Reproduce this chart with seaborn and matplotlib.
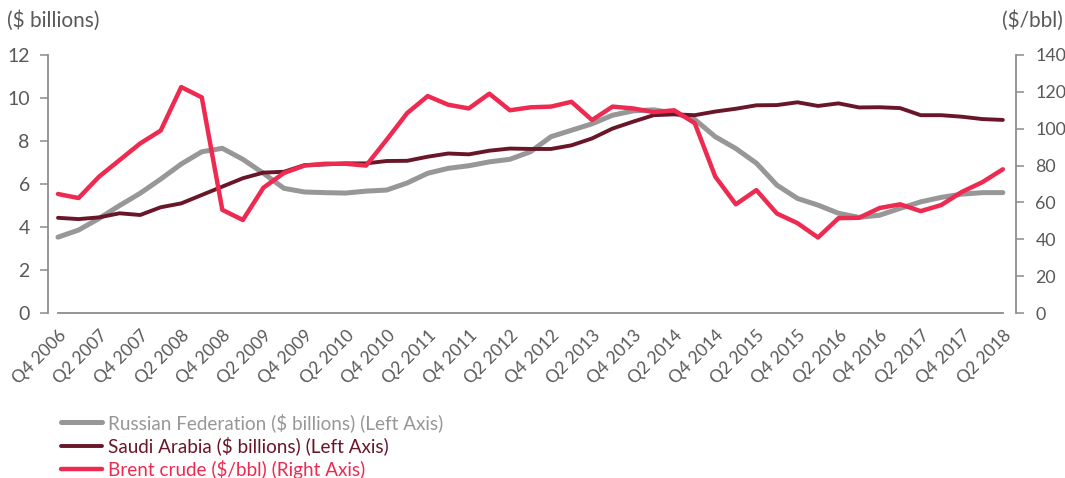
import numpy as np
import pandas as pd
import matplotlib.pyplot as plt
import seaborn as sns

# quarterly series, Q4 2006 .. Q2 2018
quarters = [f"Q{q} {y}" for y in range(2006, 2019) for q in (1, 2, 3, 4)][3:-2]

russia = [3.53, 3.86, 4.4, 5.0, 5.57, 6.23, 6.93, 7.5, 7.66, 7.15,
          6.5, 5.8, 5.63, 5.6, 5.58, 5.67, 5.72, 6.05, 6.5, 6.73,
          6.85, 7.03, 7.15, 7.5, 8.2, 8.5, 8.8, 9.2, 9.4, 9.45,
          9.3, 9.0, 8.2, 7.65, 6.97, 5.95, 5.33, 5.02, 4.64, 4.45,
          4.55, 4.87, 5.17, 5.38, 5.53, 5.6, 5.6]
saudi = [4.43, 4.37, 4.45, 4.64, 4.56, 4.92, 5.1, 5.49, 5.88, 6.27,
         6.53, 6.57, 6.88, 6.91, 6.96, 6.96, 7.07, 7.08, 7.27, 7.42,
         7.38, 7.55, 7.65, 7.63, 7.63, 7.8, 8.12, 8.58, 8.9, 9.2,
         9.24, 9.2, 9.37, 9.5, 9.66, 9.67, 9.8, 9.63, 9.75, 9.56,
         9.57, 9.53, 9.2, 9.2, 9.13, 9.02, 8.98]
brent = [64.6, 62.4, 74, 83, 92, 99, 122.6, 117, 56, 50.5,
         68, 76, 80, 81, 81, 80, 94, 108.5, 117.7, 113,
         111, 119, 110, 111.6, 112, 114.6, 104.7, 112, 111, 109,
         110, 103, 74, 59, 66.7, 54, 48.8, 41, 51.5, 51.7,
         57, 59, 55.3, 58.6, 65.7, 71, 78]

grey = "#979797"
maroon = "#6a1629"
red = "#ee2a50"
txt = "#595959"

df = pd.DataFrame({"q": np.arange(len(quarters)), "russia": russia,
                   "saudi": saudi, "brent": brent})

sns.set_style("white")
plt.rcParams["font.family"] = ["Lato", "DejaVu Sans"]

fig = plt.figure(figsize=(10.65, 4.78), dpi=100)
ax = fig.add_axes([0.045, 0.345, 0.909, 0.54])
ax2 = ax.twinx()

sns.lineplot(data=df, x="q", y="russia", ax=ax, color=grey, lw=3.6,
             label="Russian Federation ($ billions) (Left Axis)", legend=False)
sns.lineplot(data=df, x="q", y="saudi", ax=ax, color=maroon, lw=2.8,
             label="Saudi Arabia ($ billions) (Left Axis)", legend=False)
sns.lineplot(data=df, x="q", y="brent", ax=ax2, color=red, lw=3.2,
             label="Brent crude ($/bbl) (Right Axis)", legend=False)
for a in (ax, ax2):
    for ln in a.lines:
        ln.set_solid_joinstyle("round")
        ln.set_solid_capstyle("round")

ax.set_xlim(-0.49, 46.64)
ax.set_ylim(0, 12)
ax2.set_ylim(0, 140)
ax.set_yticks(range(0, 13, 2))
ax2.set_yticks(range(0, 141, 20))
ax.set_xticks(df.q[::2])
ax.set_xticklabels(quarters[::2], rotation=45, ha="right",
                   rotation_mode="anchor", fontsize=12.5, color=txt)
ax.set_xlabel("")
ax.set_ylabel("")
ax2.set_ylabel("")

for a in (ax, ax2):
    for s in a.spines.values():
        s.set_color("#8c8c8c")
        s.set_linewidth(1.3)
    a.spines["top"].set_visible(False)
ax.spines["right"].set_visible(False)
ax2.spines["left"].set_visible(False)
ax2.spines["bottom"].set_visible(False)
ax.spines["bottom"].set_bounds(0, 46)

ax.tick_params(axis="x", direction="out", length=6, width=1.1, color="#333333", pad=4)
ax.tick_params(axis="y", direction="out", length=6, width=1.1, color="#8c8c8c",
               labelsize=14, labelcolor=txt, pad=7)
ax2.tick_params(axis="y", direction="out", length=6, width=1.1, color="#8c8c8c",
                labelsize=12.8, labelcolor=txt, pad=8)

fig.text(0.007, 0.958, "($ billions)", fontsize=15, color=txt, va="center")
fig.text(0.998, 0.958, "($/bbl)", fontsize=15, color=txt, va="center", ha="right")

h1, l1 = ax.get_legend_handles_labels()
h2, l2 = ax2.get_legend_handles_labels()
leg = fig.legend(h1 + h2, l1 + l2, loc="upper left", bbox_to_anchor=(0.05, 0.152),
                 frameon=False, fontsize=13.6, handlelength=2.2, labelspacing=0.24,
                 handletextpad=0.3, borderaxespad=0)
for t, c in zip(leg.get_texts(), [grey, maroon, red]):
    t.set_color(c)

fig.savefig("out.png", dpi=100)
